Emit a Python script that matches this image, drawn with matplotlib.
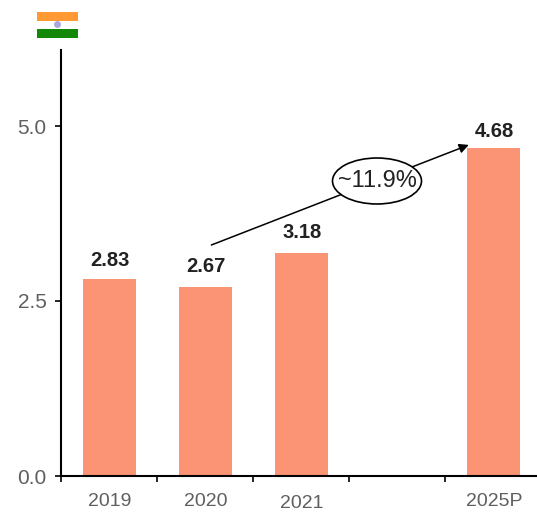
import matplotlib

matplotlib.use("Agg")

import matplotlib.pyplot as plt
from matplotlib.patches import Circle, Ellipse, Rectangle

plt.rcParams["font.family"] = ["Liberation Sans", "DejaVu Sans"]

slots = [0, 1, 2, 3, 4]
slot_labels = ["2019", "2020", "2021", "", "2025P"]
bar_slots = [0, 1, 2, 4]
values = [2.81, 2.70, 3.18, 4.68]
value_labels = ["2.83", "2.67", "3.18", "4.68"]
y_ticks = [0.0, 2.5, 5.0]
cagr_label = "~11.9%"

W, H = 537, 513
BAR_COLOR = "#FA9475"
TEXT_GREY = "#5F5F5F"

fig = plt.figure(figsize=(W / 100, H / 100), dpi=100)
ax = fig.add_axes([60.6 / W, 1 - 476 / H, (W - 60.6) / W, (476 - 50) / H])

ax.bar(bar_slots, values, width=0.555, color=BAR_COLOR)

# label gaps differ a little from bar to bar in the source (points above the bar)
label_gaps = [7, 8, 8, 5]
for x, v, lab, gap in zip(bar_slots, values, value_labels, label_gaps):
    ax.annotate(lab, (x + 0.005, v), xytext=(0, gap), textcoords="offset points",
                ha="center", va="bottom", fontsize=14.5, fontweight="bold", color="#222222")

ax.set_xlim(-0.51, 4.45)
ax.set_ylim(0, 426 / 70)
ax.set_xticks([s - 0.51 for s in slots])
ax.set_xticklabels([])
ax.set_yticks(y_ticks)
ax.set_yticklabels([f"{t:.1f}" for t in y_ticks], fontsize=15, color=TEXT_GREY)
ax.tick_params(axis="both", length=4, width=1.2, color="black")
ax.tick_params(axis="y", pad=6)

# category labels sit between the ticks, 2021 is a bit lower in the source
for s, lab in zip(slots, slot_labels):
    ax.annotate(lab, (s, 0), xytext=(0, -20 if s == 2 else -18.5), xycoords="data",
                textcoords="offset points", ha="center", va="center", fontsize=14, color=TEXT_GREY)

ax.spines["top"].set_visible(False)
ax.spines["right"].set_visible(False)
ax.spines["left"].set_linewidth(1.5)
ax.spines["bottom"].set_linewidth(1.5)

# growth arrow with the ellipse on top of it
ax.annotate("", xy=(3.74, 4.73), xytext=(1.06, 3.3),
            arrowprops=dict(arrowstyle="-|>", color="black", lw=1.1, mutation_scale=14, shrinkA=0, shrinkB=0))
fig.add_artist(Ellipse((377, H - 181), 89, 46, transform=None, fc="white", ec="black", lw=1.2, zorder=5))
fig.text(377.5 / W, 1 - 181 / H, cagr_label, ha="center", va="center", fontsize=17, color="#222222", zorder=6)

# flag drawn in pixel-like figure coordinates
fig.add_artist(Rectangle((37 / W, 1 - 21 / H), 41 / W, 9 / H, transform=fig.transFigure, color="#FF9933", lw=0))
fig.add_artist(Rectangle((37 / W, 1 - 38 / H), 41 / W, 9 / H, transform=fig.transFigure, color="#138808", lw=0))
fig.add_artist(Circle((57.5, H - 24.5), 3.5, transform=None, color="#A9A9DC", lw=0))

fig.savefig("out.png", dpi=100)
plt.close(fig)
